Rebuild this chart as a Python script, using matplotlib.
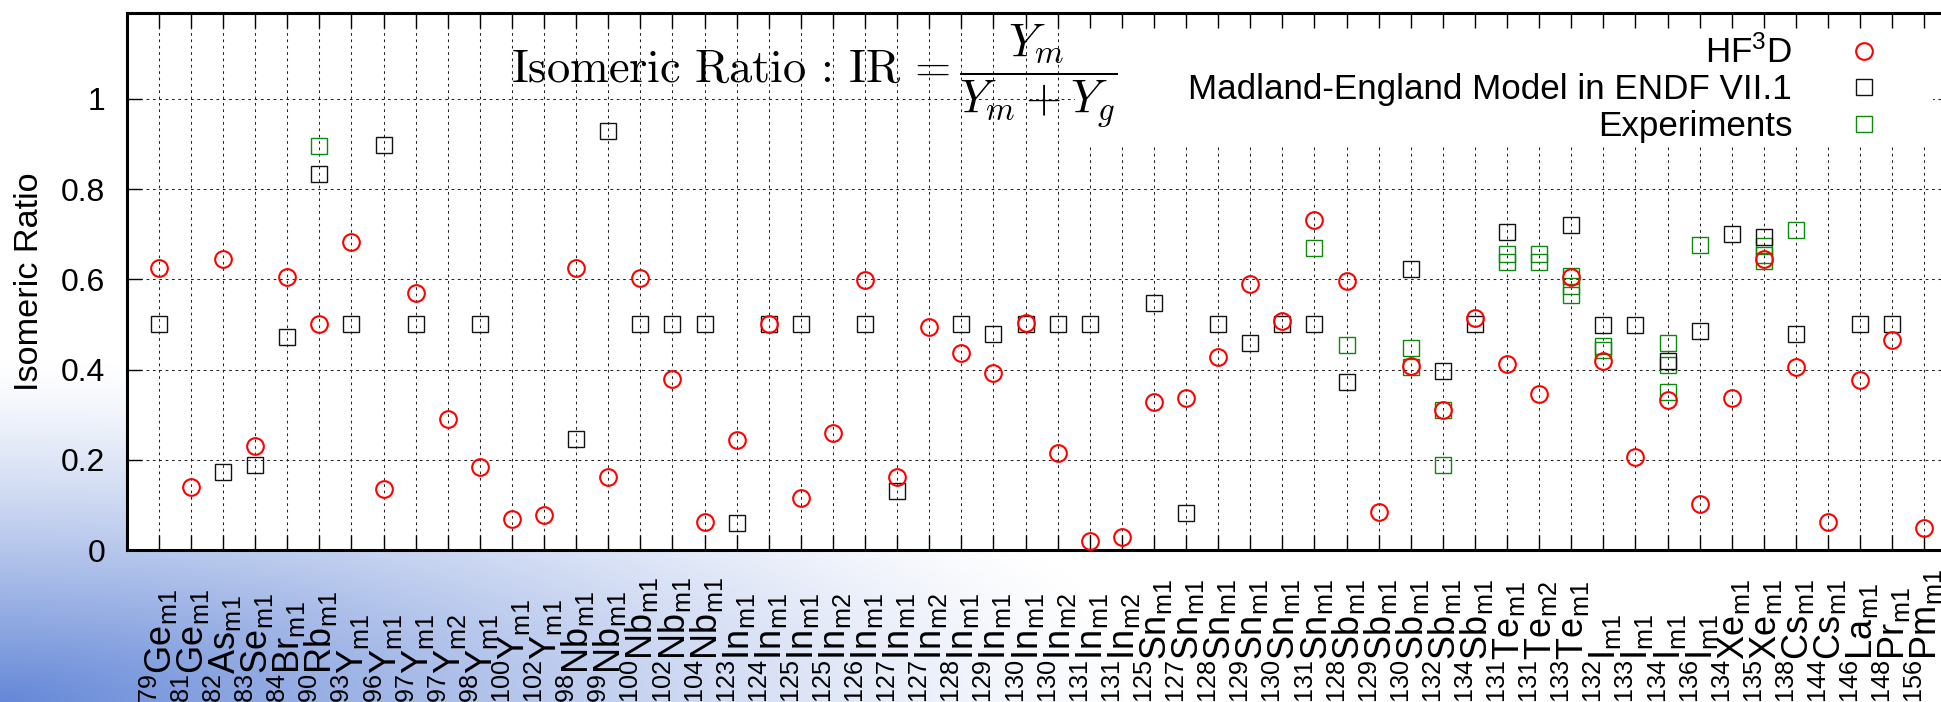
import numpy as np
import matplotlib
matplotlib.use("Agg")
import matplotlib.pyplot as plt
from matplotlib.patches import Rectangle

# ---------------- data ----------------
mass = [79, 81, 82, 83, 84, 90, 93, 96, 97, 97, 98, 100, 102, 98, 99, 100, 102, 104,
        123, 124, 125, 125, 126, 127, 127, 128, 129, 130, 130, 131, 131,
        125, 127, 128, 129, 130, 131,
        128, 129, 130, 132, 134,
        131, 131, 133,
        132, 133, 134, 136,
        134, 135, 138, 144, 146, 148, 156]
element = (["Ge", "Ge", "As", "Se", "Br", "Rb", "Y", "Y", "Y", "Y", "Y", "Y", "Y",
            "Nb", "Nb", "Nb", "Nb", "Nb"] + ["In"] * 13 + ["Sn"] * 6 + ["Sb"] * 5 +
           ["Te"] * 3 + ["I"] * 4 + ["Xe"] * 2 + ["Cs"] * 2 + ["La", "Pr", "Pm"])
state = (["m1"] * 9 + ["m2"] + ["m1"] * 8 +
         ["m1", "m1", "m1", "m2", "m1", "m1", "m2", "m1", "m1", "m1", "m2", "m1", "m2"] +
         ["m1"] * 6 + ["m1"] * 5 + ["m1", "m2", "m1"] + ["m1"] * 4 + ["m1"] * 7)

hf3d = [0.626, 0.139, 0.645, 0.231, 0.605, 0.502, 0.683, 0.136, 0.570, 0.291,
        0.185, 0.069, 0.078, 0.626, 0.162, 0.603, 0.380, 0.063, 0.243, 0.500,
        0.116, 0.260, 0.599, 0.162, 0.495, 0.437, 0.392, 0.504, 0.215, 0.020,
        0.028, 0.329, 0.337, 0.429, 0.590, 0.507, 0.731, 0.596, 0.085, 0.409,
        0.310, 0.515, 0.412, 0.347, 0.606, 0.418, 0.207, 0.333, 0.101, 0.336,
        0.645, 0.406, 0.063, 0.377, 0.466, 0.048]
nan = np.nan
endf = [0.500, nan, 0.173, 0.188, 0.473, 0.834, 0.500, 0.899, 0.500, nan,
        0.500, nan, nan, 0.247, 0.930, 0.500, 0.500, 0.500, 0.059, 0.500,
        0.500, nan, 0.500, 0.131, nan, 0.500, 0.478, 0.500, 0.500, 0.500,
        nan, 0.548, 0.082, 0.500, 0.458, 0.500, 0.500, 0.372, nan, 0.624,
        0.396, 0.500, 0.705, nan, 0.720, 0.499, 0.499, 0.419, 0.486, 0.700,
        0.695, 0.478, nan, 0.500, 0.500, nan]
exp_index = [5, 36, 37, 39, 39, 40, 40, 42, 42, 43, 43, 44, 44, 44, 45, 45,
             47, 47, 47, 48, 50, 50, 50, 51]
exp_value = [0.896, 0.669, 0.455, 0.447, 0.405, 0.310, 0.188, 0.657, 0.639,
             0.657, 0.639, 0.607, 0.585, 0.565, 0.453, 0.444, 0.460, 0.410,
             0.351, 0.676, 0.673, 0.655, 0.641, 0.710]

ytick_values = [0, 0.2, 0.4, 0.6, 0.8, 1.0]
ytick_labels = ["0", "0.2", "0.4", "0.6", "0.8", "1"]
legend_labels = [r"HF$^{\mathrm{3}}$D", "Madland-England Model in ENDF VII.1", "Experiments"]
ylabel_text = "Isomeric Ratio"
formula_text = r"$\mathrm{Isomeric\ Ratio}\,:\,\mathrm{IR}\,= \dfrac{Y_m}{Y_m + Y_g}$"

# ---------------- style ----------------
plt.rcParams['font.family'] = ['Liberation Sans', 'DejaVu Sans']
plt.rcParams['mathtext.fontset'] = 'custom'
plt.rcParams['mathtext.rm'] = 'Liberation Sans'
plt.rcParams['mathtext.it'] = 'Liberation Sans:italic'
plt.rcParams['mathtext.bf'] = 'Liberation Sans:bold'

W, H = 1941, 702
fig = plt.figure(figsize=(W / 100, H / 100), dpi=100)
fig.patch.set_facecolor('white')

# slide background gradient (bottom-left)
bg = fig.add_axes([0, 0, 1, 1], zorder=-10)
gx, gy = np.meshgrid(np.arange(W) + 0.5, np.arange(H) + 0.5)
d = np.sqrt((gx / 1150.0) ** 2 + ((H - gy) / 340.0) ** 2)
a = np.clip(1 - d, 0, 1) ** 1.25
base = np.array([100, 135, 215]) / 255.0
img = 1 - a[..., None] * (1 - base)
bg.imshow(img, extent=[0, 1, 0, 1], aspect='auto', origin='upper')
bg.axis('off')

L, R, T, B = 126.7, 1956.4, 13.3, 550.0
ax = fig.add_axes([L / W, (H - B) / H, (R - L) / W, (B - T) / H])
ax.set_facecolor('white')
n = len(mass)
x = np.arange(n)
ax.set_xlim(-1, n)
ax.set_ylim(0, 1.19)
ax.set_axisbelow(True)
ax.grid(True, color='#222222', linestyle=(0, (2.6, 3.5)), linewidth=0.75)

labels = [rf"$^{{{m}}}\mathrm{{{e}}}_{{\mathrm{{{s}}}}}$" for m, e, s in zip(mass, element, state)]
ax.set_xticks(x)
ax.set_xticklabels(labels, rotation=90, fontsize=26, va='bottom', ha='center')
ax.tick_params(axis='x', direction='in', length=10.8, width=1.0, pad=110,
               bottom=True, top=False)
ax.set_yticks(ytick_values)
ax.set_yticklabels(ytick_labels, fontsize=23)
ax.tick_params(axis='y', direction='in', length=10.8, width=1.0, pad=15.6,
               left=True, right=True)
for s in ax.spines.values():
    s.set_linewidth(2.2)

# opaque key box
ax.add_patch(Rectangle((0.5183, 0.7546), 0.9872 - 0.5183, 1 - 0.7546,
                       transform=ax.transAxes, facecolor='white',
                       edgecolor='none', zorder=1))

h_grn, = ax.plot(exp_index, exp_value, 's', ms=11.8, mfc='none', mec='#0a8a0a',
                 mew=1.0, zorder=3, label=legend_labels[2])
h_blk, = ax.plot(x, endf, 's', ms=11.8, mfc='none', mec='#111111', mew=1.0,
                 zorder=4, label=legend_labels[1])
h_red, = ax.plot(x, hf3d, 'o', ms=12, mfc='none', mec='#ff0000', mew=1.5,
                 zorder=5, label=legend_labels[0])

ax.legend(handles=[h_red, h_blk, h_grn], loc='center right',
          bbox_to_anchor=(1899.3 / W, 1 - 89 / H), bbox_transform=fig.transFigure,
          frameon=False, markerfirst=False, fontsize=25.2, handlelength=2.0,
          handletextpad=1.06, labelspacing=0.1, borderpad=0, borderaxespad=0)

# top ticks over the key box
ax2 = ax.twiny()
ax2.set_xlim(ax.get_xlim())
ax2.set_xticks(x)
ax2.tick_params(axis='x', direction='in', length=10.8, width=1.0, top=True,
                bottom=False, labeltop=False, labelbottom=False)
for s in ax2.spines.values():
    s.set_visible(False)

fig.text(511 / W, 1 - 83 / H, formula_text, fontsize=33.5, math_fontfamily='cm',
         ha='left', va='baseline')
fig.text(30 / W, 1 - 281.7 / H, ylabel_text, rotation=90, fontsize=24.7,
         ha='center', va='center')

fig.savefig('out.png', dpi=100)
